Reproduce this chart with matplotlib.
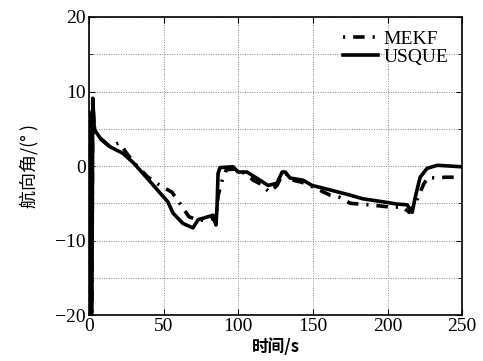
import matplotlib
matplotlib.use("Agg")
import matplotlib.pyplot as plt
from matplotlib.ticker import MultipleLocator

# Heading angle traces (time in s, angle in deg).
t_usque = [0, 0.8, 1.3, 2.0, 2.6, 3.5, 4.0, 7.4, 14.1, 22.8, 29.5, 38.9, 47.6,
           52.9, 56.3, 63.0, 69.7, 73.1, 79.8, 83.1, 85.1, 85.8, 86.5, 87.8,
           96.5, 99.9, 105.9, 114.6, 120.0, 126.0, 129.4, 131.4, 134.7, 143.4,
           149.5, 161.5, 174.9, 183.6, 197.1, 206.4, 213.1, 216.5, 218.5,
           221.8, 226.5, 233.2, 242.0, 250]
y_usque = [7.2, 5.0, -20, -20, 9.1, 5.5, 4.8, 3.8, 2.6, 1.7, 0.5, -1.6, -3.6,
           -4.8, -6.3, -7.7, -8.3, -7.2, -6.8, -6.6, -7.9, -5.5, -1.0, -0.2,
           -0.1, -0.8, -0.8, -1.9, -2.6, -2.3, -0.8, -0.8, -1.6, -1.9,
           -2.6, -3.2, -3.9, -4.4, -4.8, -5.1, -5.2, -6.2, -4.2,
           -1.5, -0.3, 0.1, 0.0, -0.1]

t_mekf = [0, 0.8, 1.3, 2.0, 2.6, 3.5, 4, 8, 14, 20, 22, 25, 30, 39, 47.6, 55.6,
          63, 67, 72.4, 78, 83, 85, 86.5, 89, 92, 97, 105, 110, 115, 121, 126,
          129.4, 132, 135, 143, 150, 161.5, 168, 175, 188, 201.7, 210, 214.5,
          217, 220.5, 224, 227, 232, 238.6, 250]
y_mekf = [7.2, 5, -20, -20, 8.5, 5.5, 4.6, 3.6, 2.6, 3.1, 2.7, 1.8, 0.5, -1.4,
          -2.6, -3.5, -5.6, -6.8, -7.2, -7.3, -7.0, -7.6, -4, -2.1, -0.5, -0.4,
          -1.0, -1.9, -2.4, -3.5, -2.6, -1.2, -1.0, -1.8, -2.2, -2.8, -3.9,
          -4.2, -5.0, -5.2, -5.5, -5.5, -6.2, -5.5, -4.2, -2.5, -1.5, -1.6,
          -1.5, -1.5]

SERIF = ["Liberation Serif", "DejaVu Serif"]
CJK = ["Noto Sans CJK SC", "DejaVu Sans"]

plt.rcParams["font.family"] = SERIF

fig = plt.figure(figsize=(4.83, 3.61), dpi=100)
ax = fig.add_axes([0.184, 0.127, 0.773, 0.826])

ax.plot(t_mekf, y_mekf, color="black", lw=2.6,
        linestyle=(0, (0.6, 2.2, 3.2, 2.2)), label="MEKF")
ax.plot(t_usque, y_usque, color="black", lw=2.6, label="USQUE")

ax.set_xlim(0, 250)
ax.set_ylim(-20, 20)
ax.xaxis.set_major_locator(MultipleLocator(50))
ax.yaxis.set_major_locator(MultipleLocator(10))
ax.yaxis.set_minor_locator(MultipleLocator(5))
ax.grid(True, which="both", color="#888888", linestyle=(0, (1, 1.5)), lw=0.7)
ax.tick_params(which="both", direction="in", top=True, right=True,
               labelsize=14, pad=2)
ax.tick_params(which="major", length=4)
ax.tick_params(which="minor", length=3)
for s in ax.spines.values():
    s.set_linewidth(1.2)

ax.set_xlabel("时间/s", family=CJK, fontsize=12, fontweight="bold", labelpad=2)
ax.set_ylabel("航向角/(° )", family=CJK, fontsize=13, labelpad=12)

leg = ax.legend(loc="upper right", frameon=False, fontsize=14, handlelength=1.8,
                handletextpad=0.3, labelspacing=0.0, borderaxespad=0.3)

fig.savefig("out.png", dpi=100)
